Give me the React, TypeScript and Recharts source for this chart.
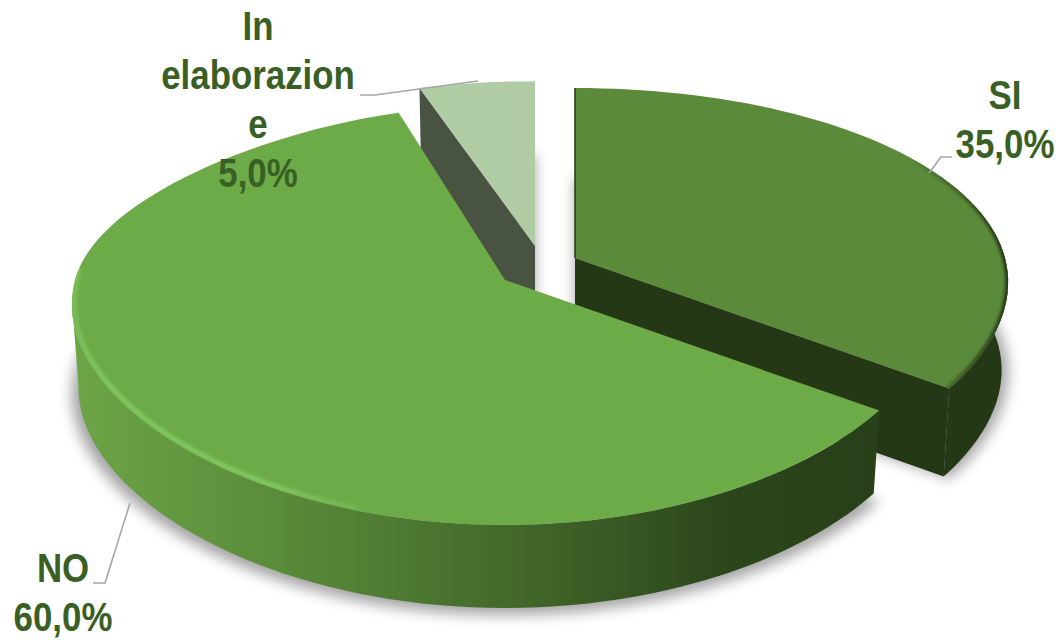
import { Pie, PieChart } from "recharts";

const categories = ["In elaborazione", "SI", "NO"];
const shares = [5, 35, 60];
const labelLines = [["In", "elaborazion", "e"], ["SI"], ["NO"]];

const chartData = categories.map((name, i) => ({ name, value: shares[i] }));

const WIDTH = 1058;
const HEIGHT = 640;
const RY = 196;
const FRONT_TILT_Y = 0.2;
const TILT_X = 0.12;
const SIDE_SHRINK = 0.985;

// per slice look: explode offset, perspective at the back, top face, wall fills, label placement, leader line
const sliceStyles = [
  {
    dx: -5, dy: -24, backY: 0.19, backX: 0.04, depth: 88, rxScale: 1, top: "#b0cca4", radial: "#495341", wall: "#495341", rim: null,
    labelX: 258, labelY: 40, leader: "478,81 375,95 360,95",
  },
  {
    dx: 35, dy: -12, backY: 0.153, backX: 0, depth: 88, rxScale: 1, top: "#5b8a3a", radial: "#253815", wall: "#253815", rim: "url(#rimDark)",
    labelX: 1005, labelY: 109, leader: "929,173 941,157 952,157",
  },
  {
    dx: -35, dy: 10, backY: 0.12, backX: 0.15, depth: 83, rxScale: 1, top: "#6dab48", radial: "none", wall: "url(#wallNo)", rim: "url(#rimLight)",
    labelX: 63, labelY: 582, leader: "130,503 105,583 93,583",
  },
];

type Pt = [number, number];
type Look = (typeof sliceStyles)[number];

function project(theta: number, s: Look, ax: number, ay: number, rx: number): Pt {
  const t = (theta * Math.PI) / 180;
  const ux = Math.sin(t);
  const uy = -Math.cos(t);
  const wx = 1 - TILT_X * uy + (uy < 0 ? s.backX * uy * uy : 0);
  const wy = uy > 0 ? 1 - FRONT_TILT_Y * uy : 1 - s.backY * uy;
  return [ax + (rx * s.rxScale * ux) / wx, ay + (RY * uy) / wy];
}

function arc(from: number, to: number, s: Look, ax: number, ay: number, rx: number): Pt[] {
  const pts: Pt[] = [];
  const n = Math.max(2, Math.ceil(Math.abs(to - from) / 2));
  for (let i = 0; i <= n; i++) pts.push(project(from + ((to - from) * i) / n, s, ax, ay, rx));
  return pts;
}

function lowered(pts: Pt[], ax: number, depth: number): Pt[] {
  return pts.map(([x, y]) => [ax + (x - ax) * SIDE_SHRINK, y + depth] as Pt);
}

const toPath = (pts: Pt[], close = true) =>
  "M" + pts.map(([x, y]) => `${x.toFixed(1)} ${y.toFixed(1)}`).join("L") + (close ? "Z" : "");

function Slice3D(props: any) {
  const { cx, cy, outerRadius, startAngle, endAngle, index } = props;
  const s = sliceStyles[index];
  const ax = cx + s.dx;
  const ay = cy + s.dy;
  // recharts angles run counter clockwise from east, here clockwise from north
  const from = 90 - startAngle;
  const to = 90 - endAngle;
  const outline = arc(from, to, s, ax, ay, outerRadius);
  const apex: Pt = [ax, ay];
  const topFace = [apex, ...outline];

  const frontFrom = Math.max(from, 82);
  const frontTo = Math.min(to, 264);
  const front = frontTo > frontFrom ? arc(frontFrom, frontTo, s, ax, ay, outerRadius) : [];
  const wall = front.length ? [...front, ...lowered(front, ax, s.depth).reverse()] : [];

  // the cut face that looks at the viewer: clockwise end of SI, start of the small slice
  const cutEdge: Pt[] | null =
    index === 1 ? [apex, outline[outline.length - 1]] : index === 0 ? [apex, outline[0]] : null;
  const cut = cutEdge ? [...cutEdge, ...lowered(cutEdge, ax, s.depth).reverse()] : null;

  const rimPts =
    index === 2 ? arc(198, 272, s, ax, ay, outerRadius) : index === 1 ? arc(58, to, s, ax, ay, outerRadius) : null;

  return (
    <g>
      <clipPath id={`topClip${index}`}>
        <path d={toPath(topFace)} />
      </clipPath>
      <path d={toPath(topFace)} transform={`translate(0 ${index === 0 ? 74 : 90})`} fill="#000" opacity={0.36} filter="url(#softShadow)" />
      {wall.length > 0 && <path d={toPath(wall)} fill={s.wall} />}
      {cut && <path d={toPath(cut)} fill={s.radial} />}
      <path d={toPath(topFace)} fill={s.top} />
      {index === 1 && <path d={toPath([apex, outline[0]], false)} stroke={s.radial} strokeWidth={1.5} fill="none" />}
      {rimPts && s.rim && (
        <g clipPath={`url(#topClip${index})`}>
          <path
            d={toPath(rimPts.map(([x, y]) => (index === 2 ? [x + 2, y - 2] : [x, y]) as Pt), false)}
            fill="none"
            stroke={s.rim}
            strokeWidth={index === 2 ? 5 : 6}
            strokeLinecap="round"
            filter="url(#softEdge)"
          />
        </g>
      )}
    </g>
  );
}

function SliceLabel(props: any) {
  const { index, percent } = props;
  const s = sliceStyles[index];
  const lines = [...labelLines[index], `${(percent * 100).toFixed(1).replace(".", ",")}%`];
  return (
    <g>
      <polyline points={s.leader} fill="none" stroke="#a6a6a6" strokeWidth={1.6} />
      {lines.map((line, i) => (
        <text
          key={line}
          transform={`translate(${s.labelX} ${s.labelY + i * 49}) scale(0.85 1)`}
          textAnchor="middle"
          fontFamily="'Liberation Sans', sans-serif"
          fontWeight={700}
          fontSize={41}
          fill="#3a5f25"
        >
          {line}
        </text>
      ))}
    </g>
  );
}

export default function App() {
  return (
    <div style={{ position: "absolute", left: 0, top: 0, width: WIDTH, height: HEIGHT, overflow: "hidden" }}>
      <PieChart width={WIDTH} height={HEIGHT} margin={{ top: 0, right: 0, bottom: 0, left: 0 }}>
        <defs>
          <linearGradient id="wallNo" gradientUnits="userSpaceOnUse" x1={72} y1={0} x2={880} y2={0}>
            <stop offset="0" stopColor="#6ca547" />
            <stop offset="0.25" stopColor="#5a8c3a" />
            <stop offset="0.55" stopColor="#43682a" />
            <stop offset="0.8" stopColor="#2c471c" />
            <stop offset="1" stopColor="#283f19" />
          </linearGradient>
          <linearGradient id="rimLight" gradientUnits="userSpaceOnUse" x1={72} y1={0} x2={400} y2={0}>
            <stop offset="0" stopColor="#80c85e" stopOpacity={0.6} />
            <stop offset="0.1" stopColor="#80c85e" />
            <stop offset="0.6" stopColor="#80c85e" />
            <stop offset="1" stopColor="#80c85e" stopOpacity={0} />
          </linearGradient>
          <linearGradient id="rimDark" gradientUnits="userSpaceOnUse" x1={900} y1={0} x2={1005} y2={0}>
            <stop offset="0" stopColor="#253815" stopOpacity={0} />
            <stop offset="1" stopColor="#253815" />
          </linearGradient>
          <filter id="softShadow" x="-20%" y="-20%" width="140%" height="140%">
            <feGaussianBlur stdDeviation="7" />
          </filter>
          <filter id="softEdge" x="-10%" y="-10%" width="120%" height="120%">
            <feGaussianBlur stdDeviation="1.5" />
          </filter>
        </defs>
        <Pie
          data={chartData}
          dataKey="value"
          nameKey="name"
          cx={540}
          cy={270}
          innerRadius={0}
          outerRadius={430}
          startAngle={108}
          endAngle={-252}
          stroke="none"
          shape={Slice3D}
          label={SliceLabel}
          labelLine={false}
          rootTabIndex={-1}
          isAnimationActive={false}
        />
      </PieChart>
    </div>
  );
}
